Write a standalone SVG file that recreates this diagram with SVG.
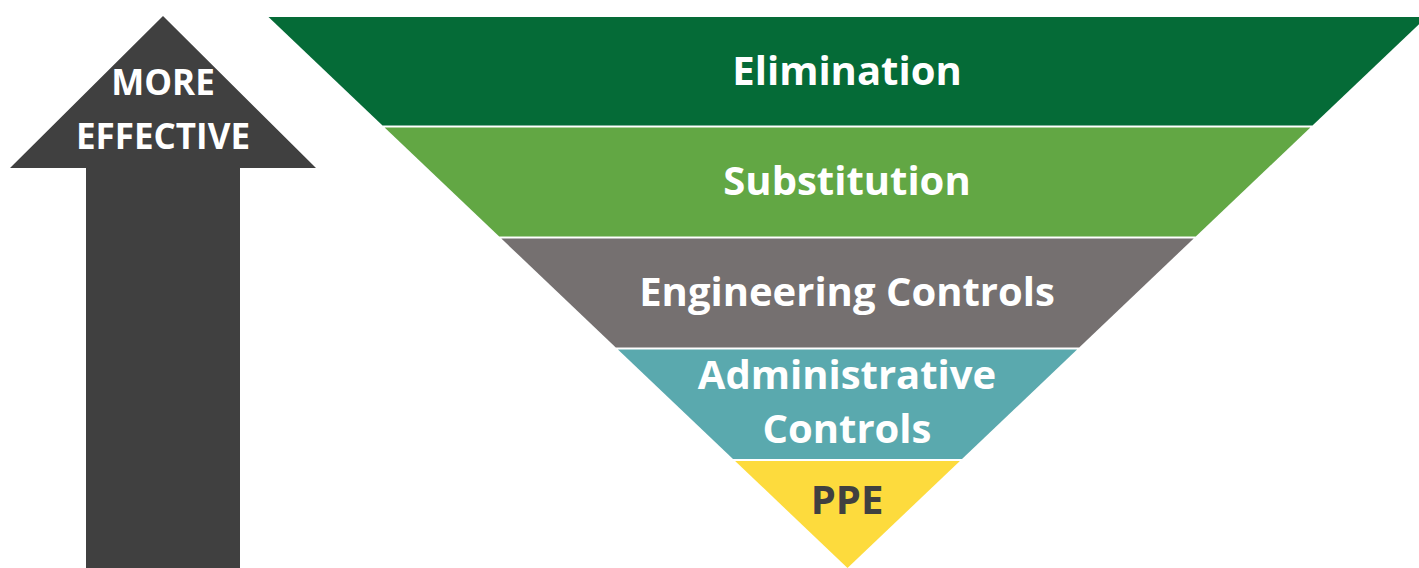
<svg xmlns="http://www.w3.org/2000/svg" width="1419" height="568" viewBox="0 0 1419 568">
<style>
.lbl{font-family:"Open Sans","Liberation Sans",sans-serif;font-weight:bold;font-size:40px;fill:#ffffff;text-anchor:middle}
.arr{font-family:"Open Sans","Liberation Sans",sans-serif;font-weight:bold;font-size:35px;fill:#ffffff;text-anchor:middle}
</style>
<rect width="1419" height="568" fill="#ffffff"/>
<g id="arrow">
<polygon points="163,16 316,168 240,168 240,568 86,568 86,168 10,168" fill="#404040"/>
<text class="arr" x="163" y="95">MORE</text>
<text class="arr" x="163" y="149">EFFECTIVE</text>
</g>
<g id="elimination">
<polygon points="268.5,17 1426.5,17 1312.5,125.5 382.5,125.5" fill="#056B37"/>
<text class="lbl" x="847" y="85">Elimination</text>
</g>
<g id="substitution">
<polygon points="384.6,127.5 1310.4,127.5 1195.8,236.5 499.2,236.5" fill="#62A744"/>
<text class="lbl" x="847" y="195">Substitution</text>
</g>
<g id="engineering">
<polygon points="501.3,238.5 1193.7,238.5 1079.2,347.5 615.8,347.5" fill="#757070"/>
<text class="lbl" x="847" y="306">Engineering Controls</text>
</g>
<g id="administrative">
<polygon points="617.9,349.5 1077.1,349.5 962,459 733,459" fill="#5AA9AE"/>
<text class="lbl" x="847" y="389">Administrative</text>
<text class="lbl" x="847" y="443">Controls</text>
</g>
<g id="ppe">
<polygon points="735.1,461 959.9,461 847.5,568" fill="#FDDB3D"/>
<text class="lbl" x="847" y="514" style="fill:#404040">PPE</text>
</g>
<g id="connectors"></g>
</svg>
